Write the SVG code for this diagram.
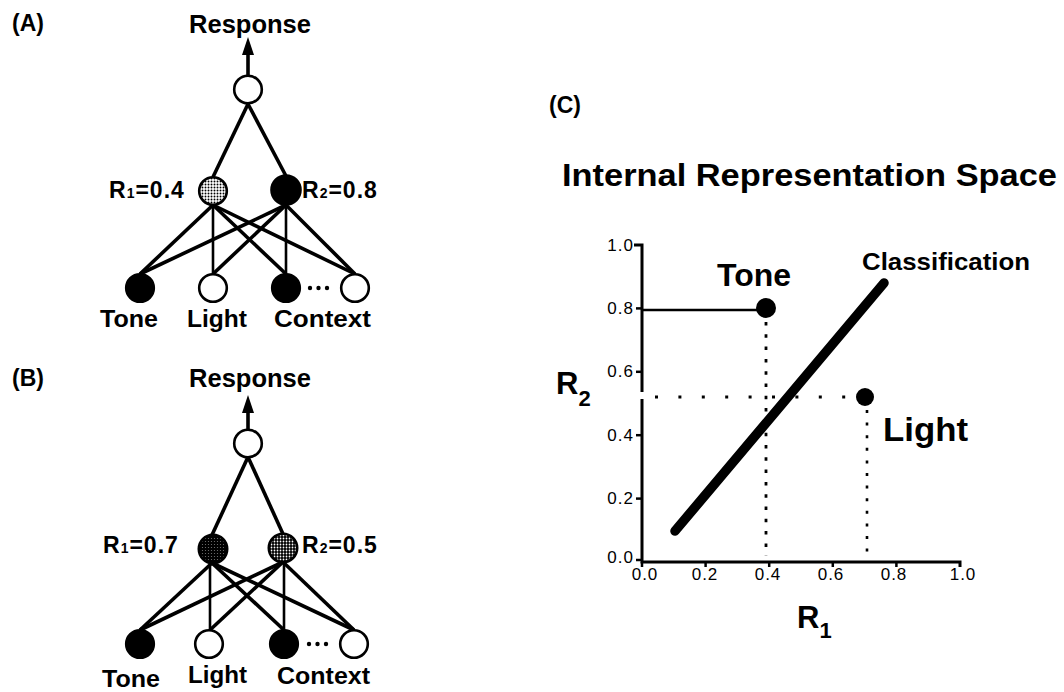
<svg xmlns="http://www.w3.org/2000/svg" width="1064" height="692" viewBox="0 0 1064 692">
  <defs>
    <style>
      text { font-family: "Liberation Sans", Arial, sans-serif; font-weight: bold; fill: #000; }
      .panel { font-size: 23px; }
      .resp { font-size: 25px; }
      .lbl { font-size: 24px; }
      .rl { font-size: 23px; letter-spacing: 1px; }
      .sub { font-size: 14px; }
      .tick { font-size: 17px; font-weight: normal; letter-spacing: 1px; }
      .node { stroke: #000; stroke-width: 2.6; }
      .edge { stroke: #000; stroke-width: 3.6; fill: none; }
      .vedge { stroke: #000; stroke-width: 2.6; fill: none; }
      .axis { stroke: #000; stroke-width: 3; fill: none; }
    </style>
    <pattern id="lightDots" width="3" height="3" patternUnits="userSpaceOnUse">
      <rect width="3" height="3" fill="#fff"/>
      <circle cx="1.5" cy="1.5" r="0.95" fill="#000"/>
    </pattern>
    <pattern id="medDots" width="3" height="3" patternUnits="userSpaceOnUse">
      <rect width="3" height="3" fill="#000"/>
      <circle cx="1.5" cy="1.5" r="0.9" fill="#fff"/>
    </pattern>
    <pattern id="darkDots" width="3" height="3" patternUnits="userSpaceOnUse">
      <rect width="3" height="3" fill="#000"/>
      <circle cx="1.5" cy="1.5" r="0.6" fill="#777"/>
    </pattern>
    <marker id="arrow" markerUnits="userSpaceOnUse" markerWidth="18" markerHeight="12" refX="0" refY="6" orient="auto" viewBox="0 0 18 12">
      <path d="M0 0 L18 6 L0 12 Z" fill="#000"/>
    </marker>
  </defs>

  <!-- ===== Panel A ===== -->
  <g id="panelA-labels">
    <text class="panel" x="12" y="31">(A)</text>
    <text class="resp" x="189" y="33" textLength="122" lengthAdjust="spacingAndGlyphs">Response</text>
  </g>
  <g id="connectors-A">
    <line class="edge" x1="248" y1="75" x2="248" y2="55" marker-end="url(#arrow)"/>
    <line class="edge" x1="248" y1="104" x2="213" y2="177"/>
    <line class="edge" x1="248" y1="104" x2="286" y2="176"/>
    <line class="edge" x1="213" y1="205" x2="140" y2="274"/>
    <line class="vedge" x1="213" y1="205" x2="213" y2="274"/>
    <line class="edge" x1="213" y1="205" x2="286" y2="274"/>
    <line class="edge" x1="213" y1="205" x2="355" y2="274"/>
    <line class="edge" x1="286" y1="205" x2="140" y2="274"/>
    <line class="edge" x1="286" y1="205" x2="213" y2="274"/>
    <line class="vedge" x1="286" y1="205" x2="286" y2="274"/>
    <line class="edge" x1="286" y1="205" x2="355" y2="274"/>
  </g>
  <g id="A-output"><circle class="node" cx="248" cy="89.5" r="13.8" fill="#fff"/></g>
  <g id="A-hidden1">
    <circle class="node" cx="213" cy="191" r="13.8" fill="url(#lightDots)"/>
    <text class="rl" x="109" y="198">R<tspan class="sub">1</tspan>=0.4</text>
  </g>
  <g id="A-hidden2">
    <circle class="node" cx="286" cy="190" r="14.5" fill="#000"/>
    <text class="rl" x="302" y="198">R<tspan class="sub">2</tspan>=0.8</text>
  </g>
  <g id="A-tone">
    <circle class="node" cx="140" cy="288" r="13.8" fill="#000"/>
    <text class="lbl" x="100" y="327" textLength="58" lengthAdjust="spacingAndGlyphs">Tone</text>
  </g>
  <g id="A-light">
    <circle class="node" cx="213" cy="288" r="13.8" fill="#fff"/>
    <text class="lbl" x="187" y="327" textLength="60" lengthAdjust="spacingAndGlyphs">Light</text>
  </g>
  <g id="A-context">
    <circle class="node" cx="286" cy="288" r="13.8" fill="#000"/>
    <text class="lbl" x="274" y="327" textLength="97" lengthAdjust="spacingAndGlyphs">Context</text>
  </g>
  <g id="A-dots">
    <circle cx="310" cy="288" r="2.2" fill="#000"/>
    <circle cx="318.5" cy="288" r="2.2" fill="#000"/>
    <circle cx="327" cy="288" r="2.2" fill="#000"/>
  </g>
  <g id="A-context2"><circle class="node" cx="355" cy="288" r="13.8" fill="#fff"/></g>

  <!-- ===== Panel B ===== -->
  <g id="panelB-labels">
    <text class="panel" x="12" y="386">(B)</text>
    <text class="resp" x="189" y="387" textLength="122" lengthAdjust="spacingAndGlyphs">Response</text>
  </g>
  <g id="connectors-B">
    <line class="edge" x1="248" y1="430" x2="248" y2="413" marker-end="url(#arrow)"/>
    <line class="edge" x1="248" y1="457" x2="212" y2="535"/>
    <line class="edge" x1="248" y1="457" x2="283" y2="534"/>
    <line class="edge" x1="212" y1="563" x2="140" y2="630"/>
    <line class="vedge" x1="210" y1="563" x2="210" y2="630"/>
    <line class="edge" x1="212" y1="563" x2="284" y2="630"/>
    <line class="edge" x1="212" y1="563" x2="354" y2="630"/>
    <line class="edge" x1="283" y1="562" x2="140" y2="630"/>
    <line class="edge" x1="283" y1="562" x2="210" y2="630"/>
    <line class="vedge" x1="284" y1="562" x2="284" y2="630"/>
    <line class="edge" x1="283" y1="562" x2="354" y2="630"/>
  </g>
  <g id="B-output"><circle class="node" cx="248" cy="443.5" r="13.8" fill="#fff"/></g>
  <g id="B-hidden1">
    <circle class="node" cx="213" cy="549" r="14.2" fill="url(#darkDots)"/>
    <text class="rl" x="103" y="553">R<tspan class="sub">1</tspan>=0.7</text>
  </g>
  <g id="B-hidden2">
    <circle class="node" cx="283" cy="548" r="14.2" fill="url(#medDots)"/>
    <text class="rl" x="302" y="553">R<tspan class="sub">2</tspan>=0.5</text>
  </g>
  <g id="B-tone">
    <circle class="node" cx="140" cy="644" r="13.8" fill="#000"/>
    <text class="lbl" x="102" y="687" textLength="58" lengthAdjust="spacingAndGlyphs">Tone</text>
  </g>
  <g id="B-light">
    <circle class="node" cx="209" cy="644" r="13.8" fill="#fff"/>
    <text class="lbl" x="188" y="683" textLength="59" lengthAdjust="spacingAndGlyphs">Light</text>
  </g>
  <g id="B-context">
    <circle class="node" cx="284" cy="644" r="13.8" fill="#000"/>
    <text class="lbl" x="277" y="684" textLength="93" lengthAdjust="spacingAndGlyphs">Context</text>
  </g>
  <g id="B-dots">
    <circle cx="309" cy="644" r="2.2" fill="#000"/>
    <circle cx="317.5" cy="644" r="2.2" fill="#000"/>
    <circle cx="326" cy="644" r="2.2" fill="#000"/>
  </g>
  <g id="B-context2"><circle class="node" cx="354" cy="644" r="13.8" fill="#fff"/></g>

  <!-- ===== Panel C ===== -->
  <g id="panelC-labels">
    <text class="panel" x="549" y="113">(C)</text>
    <text x="562" y="186" font-size="32" textLength="495" lengthAdjust="spacingAndGlyphs">Internal Representation Space</text>
  </g>
  <g id="C-axes">
    <path class="axis" d="M634 245 H642 V392"/>
    <path class="axis" d="M642 399 V562 H960 V567"/>
    <g stroke="#000" stroke-width="2.5">
      <line x1="636" y1="308.4" x2="642" y2="308.4"/>
      <line x1="636" y1="371.8" x2="642" y2="371.8"/>
      <line x1="636" y1="435.2" x2="642" y2="435.2"/>
      <line x1="636" y1="498.6" x2="642" y2="498.6"/>
      <line x1="636" y1="560" x2="642" y2="560"/>
      <line x1="642" y1="562" x2="642" y2="567"/>
      <line x1="705.6" y1="562" x2="705.6" y2="567"/>
      <line x1="769.2" y1="562" x2="769.2" y2="567"/>
      <line x1="832.8" y1="562" x2="832.8" y2="567"/>
      <line x1="896.4" y1="562" x2="896.4" y2="567"/>
    </g>
    <g class="tick-labels">
      <text class="tick" x="634" y="251" text-anchor="end">1.0</text>
      <text class="tick" x="634" y="314" text-anchor="end">0.8</text>
      <text class="tick" x="634" y="377" text-anchor="end">0.6</text>
      <text class="tick" x="634" y="441" text-anchor="end">0.4</text>
      <text class="tick" x="634" y="504" text-anchor="end">0.2</text>
      <text class="tick" x="634" y="563" text-anchor="end">0.0</text>
      <text class="tick" x="645" y="580" text-anchor="middle">0.0</text>
      <text class="tick" x="705" y="580" text-anchor="middle">0.2</text>
      <text class="tick" x="768" y="580" text-anchor="middle">0.4</text>
      <text class="tick" x="831" y="580" text-anchor="middle">0.6</text>
      <text class="tick" x="894" y="580" text-anchor="middle">0.8</text>
      <text class="tick" x="963" y="580" text-anchor="middle">1.0</text>
    </g>
    <text x="556" y="394" font-size="31">R<tspan font-size="22" dy="12">2</tspan></text>
    <text x="797" y="628" font-size="31">R<tspan font-size="22" dy="10">1</tspan></text>
  </g>
  <g id="C-guides">
    <line x1="642" y1="310" x2="760" y2="310" stroke="#000" stroke-width="2.5"/>
    <line x1="766" y1="322" x2="766" y2="556" stroke="#000" stroke-width="2.8" stroke-dasharray="3.5 8.8"/>
    <line x1="867" y1="410" x2="867" y2="556" stroke="#000" stroke-width="2.6" stroke-dasharray="3 9.6"/>
    <line x1="655" y1="397" x2="852" y2="397" stroke="#000" stroke-width="3" stroke-dasharray="3 20.4"/>
  </g>
  <g id="C-classification">
    <line x1="675" y1="531" x2="884" y2="283" stroke="#000" stroke-width="9.5" stroke-linecap="round"/>
    <text x="862" y="270" font-size="24" textLength="168" lengthAdjust="spacingAndGlyphs">Classification</text>
  </g>
  <g id="C-tone">
    <circle cx="766" cy="308" r="10" fill="#000"/>
    <text x="717" y="286" font-size="31" textLength="74" lengthAdjust="spacingAndGlyphs">Tone</text>
  </g>
  <g id="C-light">
    <circle cx="865" cy="397" r="9" fill="#000"/>
    <text x="883" y="441" font-size="33" textLength="85" lengthAdjust="spacingAndGlyphs">Light</text>
  </g>
</svg>
